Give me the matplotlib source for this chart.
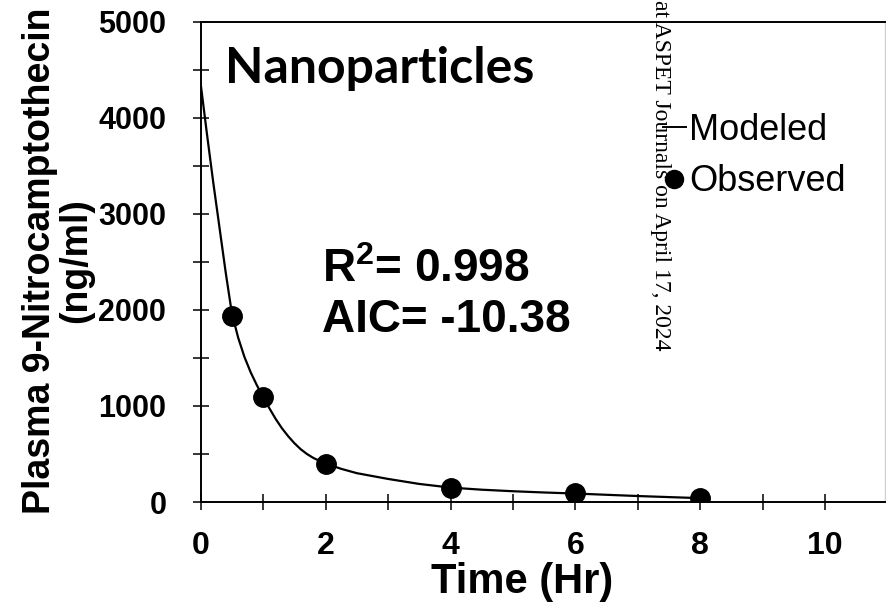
import matplotlib
matplotlib.use("Agg")
import matplotlib.pyplot as plt
from matplotlib.lines import Line2D
from matplotlib.ticker import MultipleLocator

plt.rcParams["font.family"] = ["Liberation Sans", "DejaVu Sans"]
plt.rcParams["mathtext.fontset"] = "custom"
plt.rcParams["mathtext.rm"] = "Liberation Sans"
plt.rcParams["mathtext.bf"] = "Liberation Sans:bold"

# modeled curve
time_model = [0, 0.1, 0.2, 0.3, 0.4, 0.5, 0.6, 0.7, 0.8, 0.9, 1.0,
              1.1, 1.2, 1.3, 1.4, 1.5, 1.6, 1.7, 1.8, 1.9, 2.0,
              2.25, 2.5, 3.0, 3.5, 4.0, 4.5, 5.0, 5.5, 6.0, 7.0, 8.0]
conc_model = [4350, 3830, 3330, 2860, 2390, 1960, 1710, 1510, 1350, 1214, 1094,
              975, 865, 768, 685, 612, 550, 500, 460, 428, 400,
              345, 300, 240, 188, 150, 128, 112, 99, 88, 62, 40]

# observed points
time_obs = [0.5, 1, 2, 4, 6, 8]
conc_obs = [1940, 1095, 400, 145, 90, 40]

x_ticks = [0, 2, 4, 6, 8, 10]
y_ticks = [0, 1000, 2000, 3000, 4000, 5000]

fig = plt.figure(figsize=(8.86, 6.07), dpi=100)
ax = fig.add_axes([200.7 / 886, 1 - 502 / 607, (885 - 200.7) / 886, (502 - 21.5) / 607])

ax.plot(time_model, conc_model, color="black", lw=1.6, zorder=2)
ax.plot(time_obs, conc_obs, "o", color="black", ms=14, zorder=3)

ax.set_xlim(0, (885 - 200.7) / 62.45)
ax.set_ylim(0, 5000)
ax.set_xticks(x_ticks)
ax.set_yticks(y_ticks)
ax.xaxis.set_minor_locator(MultipleLocator(1))
ax.yaxis.set_minor_locator(MultipleLocator(500))

for side in ["left", "bottom", "top"]:
    ax.spines[side].set_linewidth(1.4)
ax.spines["right"].set_color("#d0d0d0")
ax.spines["right"].set_linewidth(1.0)

ax.tick_params(which="both", direction="inout", length=11.5, width=1.1, color="black",
               top=False, right=False)
ax.tick_params(axis="x", labelsize=23, pad=15)
ax.tick_params(axis="y", labelsize=22, pad=19)
for lab in ax.get_xticklabels() + ax.get_yticklabels():
    lab.set_fontweight("bold")

ax.set_xlabel("Time (Hr)", fontsize=30, fontweight="bold")
ax.xaxis.set_label_coords(0.469, -0.125)
ax.set_ylabel("Plasma 9-Nitrocamptothecin\n(ng/ml)", fontsize=27, fontweight="bold",
              linespacing=1.0)
ax.yaxis.set_label_coords(-0.156, 0.503)

ax.text(0.39, 4361, "Nanoparticles", fontsize=36, fontweight="bold", family="Lato",
        va="baseline")
ax.text(1.94, 2285, r"R$^{\mathbf{2}}$= 0.998", fontsize=33, fontweight="bold", va="baseline")
ax.text(1.94, 1765, "AIC= -10.38", fontsize=33, fontweight="bold", va="baseline")

handles = [Line2D([], [], color="black", lw=1.4),
           Line2D([], [], ls="none", marker="o", color="black", ms=13)]
ax.legend(handles, ["Modeled", "Observed"], loc="upper left",
          bbox_to_anchor=(7.4 / ax.get_xlim()[1], 0.81), fontsize=26, frameon=False,
          handlelength=0.64, handletextpad=0.08, labelspacing=0.46, borderpad=0,
          borderaxespad=0)

fig.text(661 / 886, 1.0, "at ASPET Journals on April 17, 2024", rotation=-90,
         family="Liberation Serif", fontsize=17, ha="center", va="top")

fig.savefig("out.png", dpi=100)
